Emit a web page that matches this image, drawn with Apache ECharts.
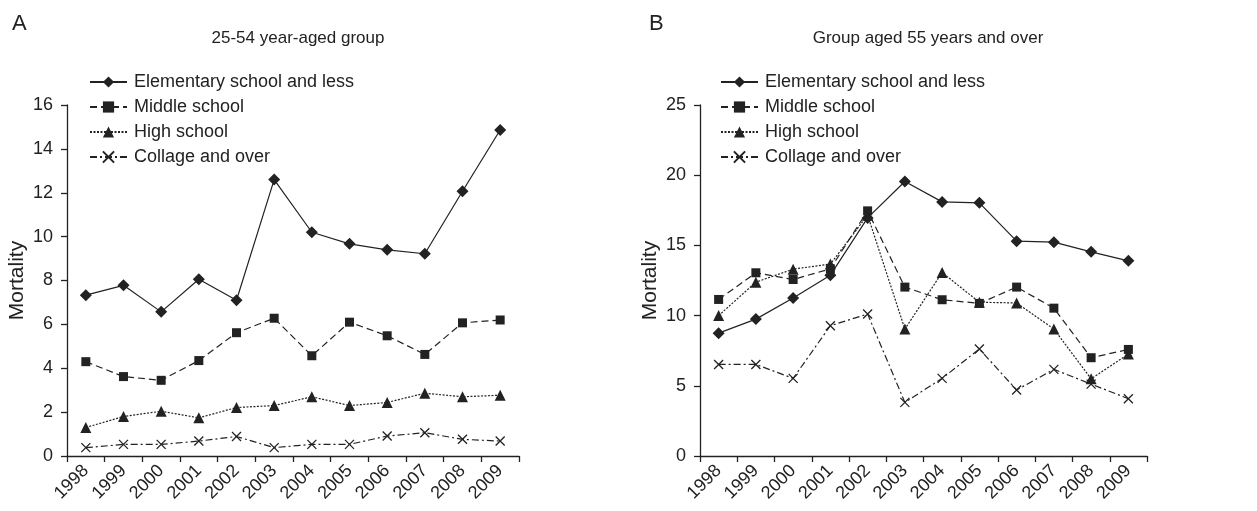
<!DOCTYPE html>
<html>
<head>
<meta charset="utf-8">
<script src="https://cdn.jsdelivr.net/npm/echarts@6/dist/echarts.min.js"></script>
<style>
  html, body { margin: 0; padding: 0; background: #fff; }
  #chart { width: 1257px; height: 511px; }
</style>
</head>
<body>
<div id="chart"></div>
<script>
const years = ['1998', '1999', '2000', '2001', '2002', '2003', '2004', '2005', '2006', '2007', '2008', '2009'];
const seriesNames = ['Elementary school and less', 'Middle school', 'High school', 'Collage and over'];

// panel A: 25-54
const youngElementary = [7.33, 7.78, 6.57, 8.06, 7.1, 12.6, 10.2, 9.67, 9.4, 9.22, 12.07, 14.86];
const youngMiddle = [4.3, 3.62, 3.45, 4.35, 5.62, 6.28, 4.57, 6.1, 5.48, 4.63, 6.07, 6.2];
const youngHigh = [1.3, 1.8, 2.04, 1.74, 2.21, 2.3, 2.7, 2.3, 2.44, 2.86, 2.7, 2.77];
const youngCollage = [0.38, 0.53, 0.53, 0.68, 0.89, 0.38, 0.53, 0.53, 0.91, 1.06, 0.76, 0.68];

// panel B: 55 and over
const oldElementary = [8.75, 9.75, 11.25, 12.88, 16.96, 19.55, 18.1, 18.03, 15.3, 15.23, 14.54, 13.9];
const oldMiddle = [11.15, 13.05, 12.57, 13.33, 17.46, 12.03, 11.13, 10.87, 12.03, 10.53, 7.0, 7.59];
const oldHigh = [10.0, 12.38, 13.31, 13.67, 17.15, 9.04, 13.07, 10.95, 10.9, 9.04, 5.5, 7.26];
const oldCollage = [6.52, 6.52, 5.53, 9.28, 10.11, 3.82, 5.53, 7.62, 4.7, 6.17, 5.12, 4.08];

const yTicksA = { min: 0, max: 16, interval: 2 };
const yTicksB = { min: 0, max: 25, interval: 5 };

(function(){
  'use strict';

  const ink = '#222';
  const font = "'Liberation Sans', Arial, sans-serif";
  const crossPath = 'path://M0,0L10,10M0,10L10,0';

  const looks = [
    { symbol: 'diamond', size: 12, dash: 'solid' },
    { symbol: 'rect', size: 9, dash: [7, 4] },
    { symbol: 'triangle', size: 11, dash: [2, 1.5] },
    { symbol: crossPath, size: 9, dash: [7, 3, 2, 3] }
  ];

  function makeSeries(values, idx, axisIdx){
    const look = looks[idx];
    const isCross = look.symbol === crossPath;
    return {
      name: seriesNames[idx],
      type: 'line',
      xAxisIndex: axisIdx,
      yAxisIndex: axisIdx,
      data: values,
      symbol: look.symbol,
      symbolSize: look.size,
      showAllSymbol: true,
      lineStyle: { color: ink, width: 1.2, type: look.dash },
      itemStyle: {
        color: isCross ? 'rgba(0,0,0,0)' : ink,
        borderColor: ink,
        borderWidth: isCross ? 1.3 : 0
      },
      z: 10 - idx,
      animation: false
    };
  }

  function xAxis(gridIdx){
    return {
      type: 'category',
      gridIndex: gridIdx,
      data: years,
      boundaryGap: true,
      axisLine: { lineStyle: { color: ink, width: 1.3 } },
      axisTick: { show: true, length: 6, alignWithLabel: false, lineStyle: { color: ink, width: 1.3 } },
      axisLabel: { rotate: 45, color: ink, fontSize: 18, fontFamily: font, margin: 12, interval: 0 },
      splitLine: { show: false }
    };
  }

  function yAxis(gridIdx, ticks){
    return {
      type: 'value',
      gridIndex: gridIdx,
      min: ticks.min,
      max: ticks.max,
      interval: ticks.interval,
      name: 'Mortality',
      nameLocation: 'middle',
      nameGap: 39,
      nameTextStyle: { color: ink, fontSize: 21, fontFamily: font },
      axisLine: { show: true, lineStyle: { color: ink, width: 1.3 } },
      axisTick: { show: true, length: 6, lineStyle: { color: ink, width: 1.3 } },
      axisLabel: { color: ink, fontSize: 18, fontFamily: font, margin: 14 },
      splitLine: { show: false }
    };
  }

  function legend(left){
    return {
      orient: 'vertical',
      left: left,
      top: 68,
      itemWidth: 37,
      itemHeight: 14,
      itemGap: 7,
      data: seriesNames,
      textStyle: { color: ink, fontSize: 18, fontFamily: font, padding: [0, 0, 0, 2] },
      selectedMode: false
    };
  }

  const chart = echarts.init(document.getElementById('chart'));
  chart.setOption({
    backgroundColor: '#fff',
    animation: false,
    textStyle: { fontFamily: font },
    title: [
      { text: 'A', left: 7, top: 8, textStyle: { fontSize: 22, fontWeight: 'normal', color: ink, fontFamily: font } },
      { text: 'B', left: 644, top: 8, textStyle: { fontSize: 22, fontWeight: 'normal', color: ink, fontFamily: font } },
      { text: '25-54 year-aged group', left: 293, top: 25, textAlign: 'center', textStyle: { fontSize: 17, fontWeight: 'normal', color: ink, fontFamily: font } },
      { text: 'Group aged 55 years and over', left: 923, top: 25, textAlign: 'center', textStyle: { fontSize: 17, fontWeight: 'normal', color: ink, fontFamily: font } }
    ],
    legend: [legend(84), legend(715)],
    grid: [
      { left: 67, right: 738, top: 105, bottom: 55 },
      { left: 700, right: 110, top: 105, bottom: 55 }
    ],
    xAxis: [xAxis(0), xAxis(1)],
    yAxis: [yAxis(0, yTicksA), yAxis(1, yTicksB)],
    series: [
      makeSeries(youngElementary, 0, 0),
      makeSeries(youngMiddle, 1, 0),
      makeSeries(youngHigh, 2, 0),
      makeSeries(youngCollage, 3, 0),
      makeSeries(oldElementary, 0, 1),
      makeSeries(oldMiddle, 1, 1),
      makeSeries(oldHigh, 2, 1),
      makeSeries(oldCollage, 3, 1)
    ]
  });
})();
</script>
</body>
</html>
